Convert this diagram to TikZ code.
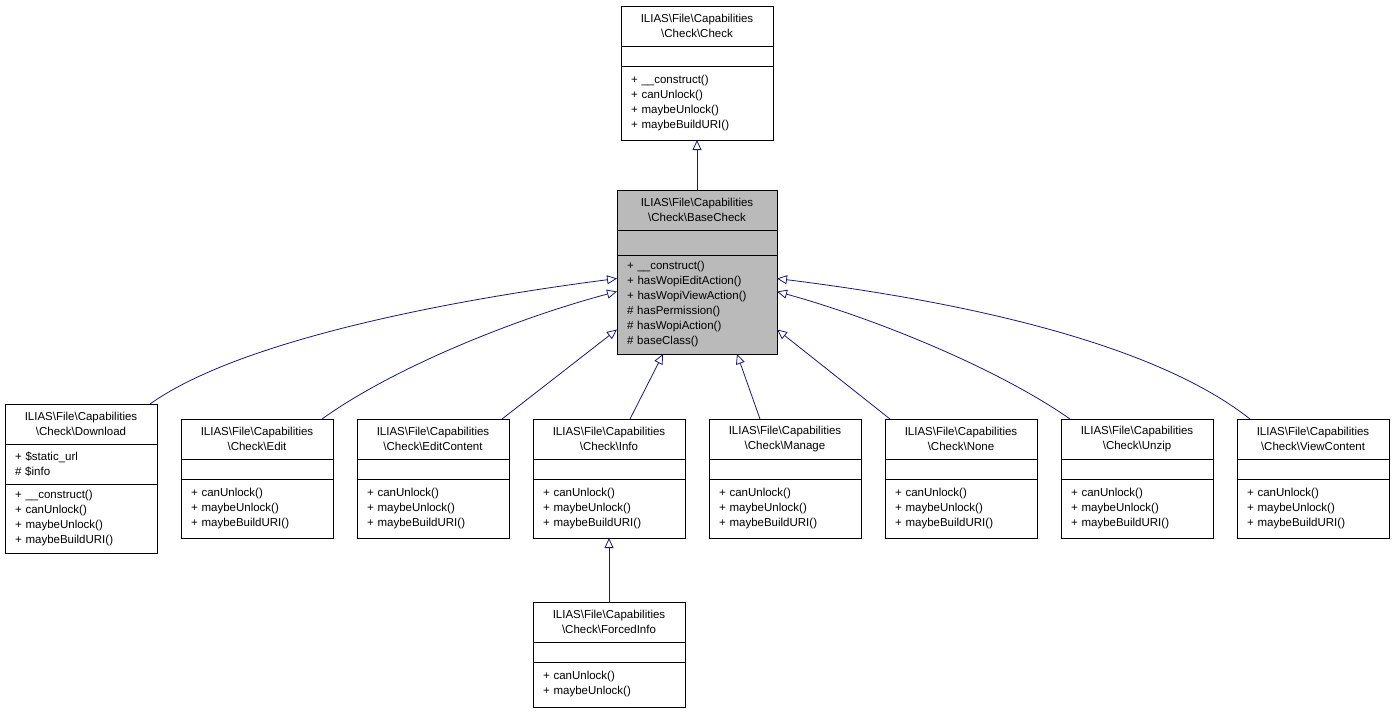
\documentclass[tikz,border=0pt]{standalone}
\usepackage{fontspec}
\setmainfont{Liberation Sans}
\usetikzlibrary{positioning,arrows.meta}
\definecolor{edgeblue}{HTML}{191970}
\tikzset{
  title/.style={draw, inner sep=0pt, inner xsep=10pt, outer sep=0pt, text width=132pt,
    minimum height=40pt, align=center, anchor=north, font=\fontsize{11.5}{15}\selectfont},
  part/.style={draw, inner sep=0pt, inner xsep=10pt, outer sep=0pt, text width=132pt,
    align=left, anchor=north, font=\fontsize{11.5}{15}\selectfont},
  inherit/.style={draw=edgeblue, line width=0.8pt, -{Triangle[open, length=10pt, width=9pt]}}
}
\newcommand{\bs}{\textbackslash}
\begin{document}
\begin{tikzpicture}[x=1pt,y=1pt]
\useasboundingbox (0,0) rectangle (1395,-713);

% top class
\node [title] (chk-t) at (697,-6) {ILIAS\bs File\bs Capabilities\\\bs Check\bs Check};
\node [part, minimum height=20pt, below=0pt of chk-t] (chk-a) {};
\node [part, minimum height=74pt, below=0pt of chk-a] (chk-m) {+ \_\_construct()\\+ canUnlock()\\+ maybeUnlock()\\+ maybeBuildURI()};

% base class
\node [title, fill=black!27, text width=140pt] (base-t) at (697,-190) {ILIAS\bs File\bs Capabilities\\\bs Check\bs BaseCheck};
\node [part, fill=black!27, text width=140pt, minimum height=25pt, below=0pt of base-t] (base-a) {};
\node [part, fill=black!27, text width=140pt, minimum height=99pt, below=0pt of base-a] (base-m) {+ \_\_construct()\\+ hasWopiEditAction()\\+ hasWopiViewAction()\\\# hasPermission()\\\# hasWopiAction()\\\# baseClass()};

% download
\node [title] (dl-t) at (81,-404) {ILIAS\bs File\bs Capabilities\\\bs Check\bs Download};
\node [part, minimum height=40pt, below=0pt of dl-t] (dl-a) {+ \$static\_url\\\# \$info};
\node [part, minimum height=69pt, below=0pt of dl-a] (dl-m) {+ \_\_construct()\\+ canUnlock()\\+ maybeUnlock()\\+ maybeBuildURI()};

% the others
\foreach \nm/\lbl/\cx in {ed/Edit/257, ec/EditContent/433, inf/Info/609, mg/Manage/785, no/None/961, uz/Unzip/1137, vc/ViewContent/1313}{
  \node [title] (\nm-t) at (\cx,-419) {ILIAS\bs File\bs Capabilities\\\bs Check\bs \lbl};
  \node [part, minimum height=20pt, below=0pt of \nm-t] (\nm-a) {};
  \node [part, minimum height=59pt, below=0pt of \nm-a] (\nm-m) {+ canUnlock()\\+ maybeUnlock()\\+ maybeBuildURI()};
}

% forced info
\node [title] (fi-t) at (609,-602) {ILIAS\bs File\bs Capabilities\\\bs Check\bs ForcedInfo};
\node [part, minimum height=20pt, below=0pt of fi-t] (fi-a) {};
\node [part, minimum height=45pt, below=0pt of fi-a] (fi-m) {+ canUnlock()\\+ maybeUnlock()};

% edges
\draw [inherit] (base-t.north) -- (chk-m.south);
\draw [inherit] (fi-t.north) -- (inf-m.south);
\draw [inherit] ([xshift=69pt]dl-t.north) .. controls (240,-340) and (450,-300) .. ([yshift=26pt]base-m.west);
\draw [inherit] ([xshift=65pt]ed-t.north) .. controls (390,-370) and (510,-320) .. ([yshift=13pt]base-m.west);
\draw [inherit] ([xshift=69pt]ec-t.north) -- ([yshift=-25pt]base-m.west);
\draw [inherit] ([xshift=21pt]inf-t.north) -- ([xshift=-34pt]base-m.south);
\draw [inherit] ([xshift=-25pt]mg-t.north) -- ([xshift=40pt]base-m.south);
\draw [inherit] ([xshift=-71pt]no-t.north) -- ([yshift=-25pt]base-m.east);
\draw [inherit] ([xshift=-67pt]uz-t.north) .. controls (1000,-370) and (880,-320) .. ([yshift=13pt]base-m.east);
\draw [inherit] ([xshift=-63pt]vc-t.north) .. controls (1150,-340) and (950,-300) .. ([yshift=26pt]base-m.east);
\end{tikzpicture}
\end{document}
